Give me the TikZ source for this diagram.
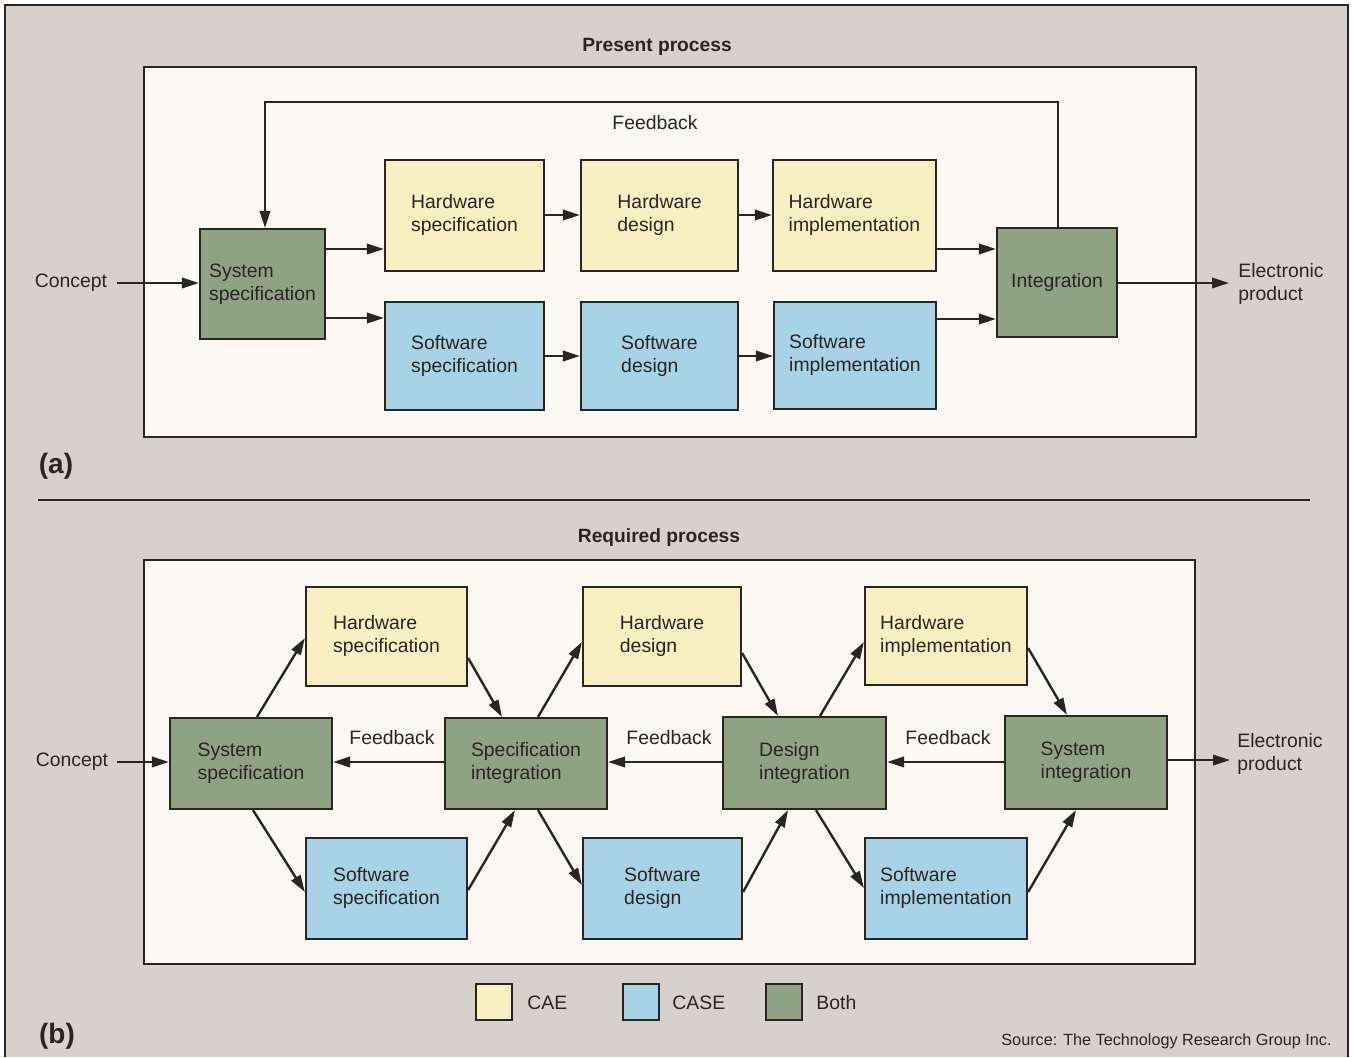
\documentclass[tikz,border=0pt]{standalone}
\usepackage{fontspec}
\setmainfont{Liberation Sans}
\usetikzlibrary{arrows.meta,calc}
\definecolor{bg}{HTML}{D6D1CD}
\definecolor{panel}{HTML}{FBF9F2}
\definecolor{cae}{HTML}{F8F0C2}
\definecolor{casec}{HTML}{A8D2E6}
\definecolor{both}{HTML}{8FA283}
\definecolor{ink}{HTML}{2A2522}
\newcommand\boxfont{\fontsize{9.7pt}{11.5pt}\selectfont}
\newcommand\twol[2]{\begin{tabular}{@{}l@{}}#1\\#2\end{tabular}}
% \bnode{style}{name}{x1}{y1}{x2}{y2}{text}
\newcommand\bnode[7]{\node[#1, minimum width={(#5-#3)*0.5pt}, minimum height={(#6-#4)*0.5pt}] (#2) at ({(#3+#5)/2},{(#4+#6)/2}) {#7};}
\begin{document}
\begin{tikzpicture}[x=0.5pt,y=-0.5pt,
  box/.style={draw=ink, line width=1.1pt, inner sep=0pt, font=\boxfont, text=ink},
  hwbox/.style={box, fill=cae},
  swbox/.style={box, fill=casec},
  bothbox/.style={box, fill=both},
  arr/.style={draw=ink, line width=1.2pt, -{Triangle[length=8.5pt,width=5.2pt]}},
  lbl/.style={font=\boxfont, text=ink, inner sep=0pt},
  title/.style={font=\fontsize{9.6pt}{11pt}\selectfont\bfseries, text=ink, inner sep=0pt},
  tag/.style={font=\fontsize{14pt}{16pt}\selectfont\bfseries, text=ink, inner sep=0pt},
  frame/.style={draw=ink, line width=1.3pt},
  legsq/.style={draw=ink, line width=1.3pt, minimum size=18pt, inner sep=0pt},
]
\useasboundingbox (0,0) rectangle (1353,1057);
\fill[white] (0,0) rectangle (1353,1057);
\fill[bg] (5,5) rectangle (1348,1057);
\draw[frame] (5,1057) -- (5,5) -- (1348,5) -- (1348,1057);

% ---------- panel (a)
\node[title] (pt) at (657,47) {Present process};
\draw[frame, fill=panel] (144,67) rectangle (1196,437);
\node[tag] (ta) at (56,466) {(a)};
\draw[ink, line width=0.8pt] (38,500) -- (1310,500);

\bnode{bothbox}{sa}{200}{229}{325}{339}{\twol{System}{specification}}
\bnode{hwbox}{hsa}{385}{160}{544}{271}{\twol{Hardware}{specification}}
\bnode{hwbox}{hda}{581}{160}{738}{271}{\twol{Hardware}{design}}
\bnode{hwbox}{hia}{773}{160}{936}{271}{\twol{Hardware}{implementation}}
\bnode{swbox}{ssa}{385}{302}{544}{410}{\twol{Software}{specification}}
\bnode{swbox}{sda}{581}{302}{738}{410}{\twol{Software}{design}}
\bnode{swbox}{sia}{774}{302}{936}{409}{\twol{Software}{implementation}}
\bnode{bothbox}{ia}{997}{228}{1117}{337}{Integration}

\node[lbl] (ca) at (71,283) {Concept};
\node[lbl, anchor=west] (ea) at (1238,284) {\twol{Electronic}{product}};
\node[lbl] (fa) at (655,123) {Feedback};

\draw[arr] (117,283) -- (sa.west |- 0,283);
\draw[arr] (sa.east |- 0,249) -- (hsa.west |- 0,249);
\draw[arr] (sa.east |- 0,318) -- (ssa.west |- 0,318);
\draw[arr] (hsa.east |- 0,215) -- (hda.west |- 0,215);
\draw[arr] (hda.east |- 0,215) -- (hia.west |- 0,215);
\draw[arr] (ssa.east |- 0,356) -- (sda.west |- 0,356);
\draw[arr] (sda.east |- 0,356) -- (sia.west |- 0,356);
\draw[arr] (hia.east |- 0,249) -- (ia.west |- 0,249);
\draw[arr] (sia.east |- 0,319) -- (ia.west |- 0,319);
\draw[arr] (ia.east |- 0,283) -- (1229,283);
\draw[arr] (ia.north -| 1058,0) -- (1058,102) -- (265,102) -- (sa.north -| 265,0);

% ---------- panel (b)
\node[title] (pb) at (659,538) {Required process};
\draw[frame, fill=panel] (144,560) rectangle (1195,964);
\node[tag] (tb) at (57,1036) {(b)};

\bnode{bothbox}{sb}{170}{718}{332}{809}{\twol{System}{specification}}
\bnode{hwbox}{hsb}{306}{587}{467}{686}{\twol{Hardware}{specification}}
\bnode{swbox}{ssb}{306}{838}{467}{939}{\twol{Software}{specification}}
\bnode{bothbox}{sib}{445}{718}{607}{809}{\twol{Specification}{integration}}
\bnode{hwbox}{hdb}{583}{587}{741}{686}{\twol{Hardware}{design}}
\bnode{swbox}{sdb}{583}{838}{742}{939}{\twol{Software}{design}}
\bnode{bothbox}{dib}{723}{717}{886}{809}{\twol{Design}{integration}}
\bnode{hwbox}{hib}{865}{587}{1027}{685}{\twol{Hardware}{implementation}}
\bnode{swbox}{swib}{865}{838}{1027}{939}{\twol{Software}{implementation}}
\bnode{bothbox}{syb}{1005}{716}{1167}{809}{\twol{System}{integration}}

\node[lbl] (cb) at (72,762) {Concept};
\node[lbl, anchor=west] (eb) at (1237,754) {\twol{Electronic}{product}};
\node[lbl] (fb1) at (392,738) {Feedback};
\node[lbl] (fb2) at (669,738) {Feedback};
\node[lbl] (fb3) at (948,738) {Feedback};

\draw[arr] (117,762) -- (sb.west |- 0,762);
\draw[arr] (sb.north -| 257,0) -- (hsb.west |- 0,638);
\draw[arr] (sb.south -| 253,0) -- (ssb.west |- 0,892);
\draw[arr] (hsb.east |- 0,658) -- (sib.north -| 502,0);
\draw[arr] (ssb.east |- 0,890) -- (sib.south -| 515,0);
\draw[arr] (sib.north -| 538,0) -- (hdb.west |- 0,642);
\draw[arr] (sib.south -| 538,0) -- (sdb.west |- 0,885);
\draw[arr] (hdb.east |- 0,653) -- (dib.north -| 778,0);
\draw[arr] (sdb.east |- 0,892) -- (dib.south -| 788,0);
\draw[arr] (dib.north -| 820,0) -- (hib.west |- 0,642);
\draw[arr] (dib.south -| 816,0) -- (swib.west |- 0,888);
\draw[arr] (hib.east |- 0,648) -- (syb.north -| 1067,0);
\draw[arr] (swib.east |- 0,892) -- (syb.south -| 1076,0);
\draw[arr] (sib.west |- 0,762) -- (sb.east |- 0,762);
\draw[arr] (dib.west |- 0,762) -- (sib.east |- 0,762);
\draw[arr] (syb.west |- 0,762) -- (dib.east |- 0,762);
\draw[arr] (syb.east |- 0,760) -- (1230,760);

% ---------- legend
\node[legsq, fill=cae] (l1) at (494,1002) {};
\node[lbl, anchor=west] (l1t) at (527,1003) {CAE};
\node[legsq, fill=casec] (l2) at (641,1002) {};
\node[lbl, anchor=west] (l2t) at (672,1003) {CASE};
\node[legsq, fill=both] (l3) at (784,1002) {};
\node[lbl, anchor=west] (l3t) at (816,1003) {Both};

\node[anchor=east, font=\fontsize{8.1pt}{10pt}\selectfont, text=ink, inner sep=0pt] (src) at (1332,1041) {Source: The Technology Research Group Inc.};
\end{tikzpicture}
\end{document}
